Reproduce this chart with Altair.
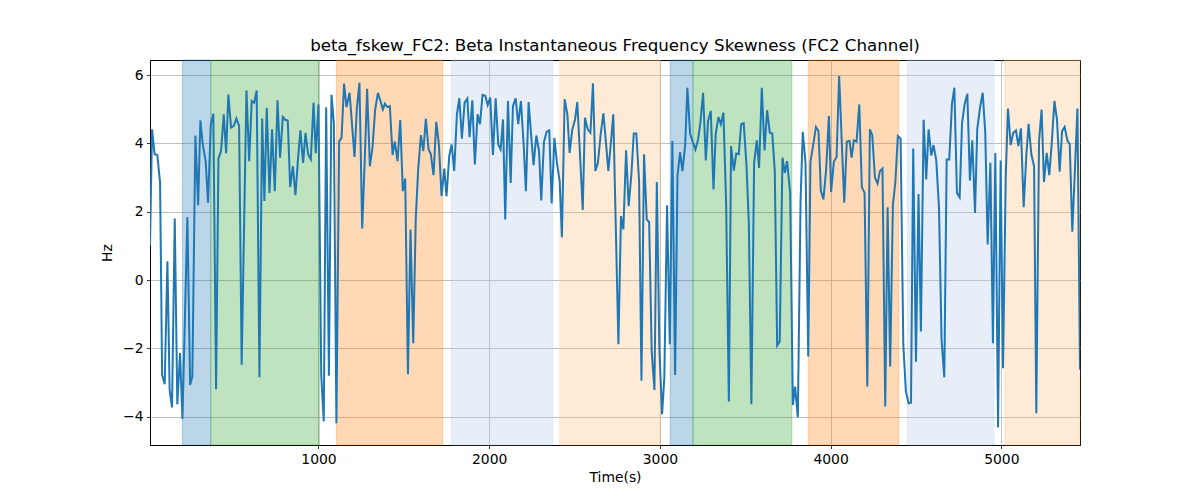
import altair as alt
import pandas as pd

# ---- series: time (s) and beta instantaneous frequency skewness (Hz) ----
t_part1 = [13, 25, 40, 56, 72, 84, 99, 115, 128, 142, 158, 173, 189, 203, 232, 248, 261, 279, 295, 308,
           322, 339, 353, 369, 384, 400, 414, 429, 445, 459, 472, 488, 504, 519, 535, 550, 578, 594, 609, 623,
           638, 654, 670, 683, 697]
v_part1 = [1.0, 4.41, 3.68, 3.66, 2.85, -2.78, -3.05, 0.55, -3.22, -3.73, 1.80, -3.64, -2.14, -4.07, 1.84, -3.07, -2.83, 4.23, 2.19, 4.67,
           3.97, 3.48, 2.26, 4.54, 4.87, -3.20, 3.56, 3.77, 4.85, 3.71, 5.43, 4.46, 4.51, 4.73, 4.51, -2.48, 5.55, 3.48, 5.24, 5.19,
           5.55, -2.85, 4.73, 2.31, 5.04]

t_part2 = [713, 728, 744, 760, 775, 791, 805, 820, 834, 850, 865, 879, 894, 910, 924, 939, 955, 971, 984, 1000,
           1016, 1031, 1045, 1061, 1076, 1090, 1105, 1121, 1135, 1150, 1164, 1182, 1195, 1211, 1225, 1240, 1256, 1270, 1285, 1301,
           1316, 1332, 1348, 1363, 1377]
v_part2 = [2.55, 4.41, 2.60, 5.26, 3.58, 4.77, 4.69, 4.67, 2.72, 3.33, 2.48, 3.48, 4.38, 3.43, 4.31, 3.68, 3.53, 5.19, 3.71, 5.14,
           -2.78, -4.14, 5.06, -2.80, 5.42, 4.60, -4.19, 4.05, 4.16, 5.75, 5.06, 5.48, 4.65, 3.60, 5.04, 5.78, 1.51, 3.38, 5.60, 3.33,
           3.87, 4.99, 5.48, 5.24, 4.99]

t_part3 = [1389, 1403, 1418, 1434, 1447, 1463, 1479, 1494, 1508, 1524, 1539, 1555, 1570, 1584, 1600, 1614, 1629, 1645, 1658, 1674,
           1690, 1705, 1721, 1737, 1750, 1766, 1780, 1795, 1811, 1825, 1840, 1856, 1872, 1885, 1901, 1916, 1932, 1946, 1961, 1977,
           1991, 2006, 2022, 2038, 2053, 2067]
v_part3 = [5.16, 5.06, 5.09, 3.66, 4.05, 3.48, 4.68, 2.60, 2.97, -2.76, 1.48, -1.85, 1.82, 3.24, 4.24, 3.77, 4.72, 3.82, 3.69, 3.07,
           4.63, 3.99, 2.46, 3.26, 2.45, 3.63, 3.97, 3.19, 4.85, 5.32, 4.14, 5.19, 5.31, 4.18, 5.26, 3.38, 4.85, 4.56, 5.42, 5.39,
           5.12, 5.34, 3.66, 5.32, 3.97, 3.82]

t_part4 = [2081, 2094, 2110, 2126, 2139, 2155, 2170, 2186, 2202, 2215, 2231, 2247, 2260, 2276, 2292, 2305, 2321, 2337, 2352, 2366,
           2382, 2397, 2413, 2426, 2442, 2458, 2471, 2487, 2503, 2516, 2532, 2548, 2561, 2577, 2593, 2608, 2622, 2637, 2653, 2669,
           2684, 2698, 2714, 2727]
v_part4 = [4.70, 1.77, 5.24, 2.84, 5.09, 5.32, 4.56, 5.24, 3.97, 2.60, 5.21, 4.16, 3.36, 4.23, 3.77, 2.33, 4.05, 4.34, 4.38, 2.24,
           4.16, 3.43, 2.89, 1.25, 5.29, 4.85, 3.72, 4.41, 4.70, 5.21, 3.68, 2.05, 4.75, 4.41, 4.31, 5.76, 3.19, 3.43, 4.26, 4.88,
           4.02, 3.19, 4.07, 4.85]

t_part5 = [2757, 2772, 2786, 2802, 2817, 2833, 2847, 2862, 2878, 2892, 2907, 2923, 2937, 2952, 2968, 2982, 2997, 3013, 3026, 3042,
           3058, 3073, 3089, 3103, 3118, 3132, 3148, 3161, 3177, 3192, 3208, 3224, 3237, 3253, 3269, 3282, 3298, 3314, 3327, 3343,
           3357, 3372, 3388, 3404, 3417, 3433]
v_part5 = [-1.88, 1.87, 1.48, 3.80, 2.16, 3.09, 4.29, 4.29, 2.89, -2.95, 3.68, 1.77, 1.70, -2.09, -3.22, 2.87, -2.04, -3.93, -2.85, 2.19,
           -1.88, 4.07, -2.78, 3.04, 3.74, 3.19, 3.95, 5.63, 4.28, 4.05, 3.82, 4.12, 4.60, 5.48, 3.50, 4.65, 4.95, 2.65, 4.28, 4.77,
           4.56, 4.90, 2.26, -3.56, 3.92, 3.20]

t_part6 = [3447, 3462, 3476, 3491, 3507, 3521, 3536, 3552, 3568, 3581, 3597, 3613, 3628, 3644, 3658, 3673, 3687, 3702, 3718, 3732,
           3745, 3763, 3779, 3792, 3808, 3824, 3837, 3853, 3869, 3882, 3898, 3914, 3929, 3943, 3958, 3974, 3990, 4003, 4019, 4035,
           4050, 4066, 4080, 4095, 4111]
v_part6 = [3.70, 3.68, 4.56, 4.59, 3.38, 1.67, -3.64, 3.43, 4.09, 3.28, 5.63, 3.79, 4.97, 4.31, 4.29, 3.19, -1.92, -1.80, 3.58, 3.14,
           3.48, 2.55, -3.66, -3.12, -4.02, 2.31, 4.34, 3.43, -2.24, 3.46, 3.95, 4.48, 4.36, 2.62, 2.36, 3.24, 4.80, 2.58, 3.46, 3.60,
           5.97, 3.97, 2.26, 4.05, 4.07]

t_part7 = [4123, 4136, 4152, 4168, 4183, 4199, 4215, 4230, 4244, 4260, 4275, 4289, 4304, 4320, 4334, 4349, 4365, 4379, 4394, 4410,
           4426, 4441, 4457, 4471, 4484, 4500, 4515, 4529, 4545, 4560, 4574, 4590, 4603, 4619, 4635, 4650, 4666, 4680, 4695, 4711,
           4725, 4740, 4756, 4770, 4785]
v_part7 = [3.58, 4.09, 4.05, 5.14, 2.72, 2.55, -3.12, 4.41, 4.24, 2.99, 2.82, 3.19, 3.26, -3.70, 2.13, -2.53, 2.21, 2.84, 4.21, 4.14,
           -1.90, -3.26, -3.61, -3.59, 3.85, -2.39, 2.52, -1.51, 4.69, 2.94, 4.41, 3.64, 3.95, 3.50, 2.11, -1.75, -2.85, 3.53, 3.53, 5.16,
           5.63, 2.55, 2.42, 4.60, 5.14]

t_part8 = [4801, 4816, 4830, 4846, 4859, 4875, 4891, 4906, 4920, 4936, 4951, 4965, 4981, 4996, 5010, 5026, 5039, 5055, 5070, 5086,
           5100, 5115, 5131, 5147, 5160, 5176, 5192, 5205, 5221, 5236, 5250, 5266, 5281, 5295, 5311, 5326, 5342, 5356, 5371, 5387,
           5401, 5416, 5430, 5446, 5461]
v_part8 = [5.45, 2.91, 4.09, 1.96, 4.41, 5.04, 5.48, 4.31, 1.04, 3.43, -1.85, 3.72, -4.32, 3.50, -2.58, 3.04, 5.02, 3.95, 4.31, 4.38,
           3.92, 4.44, 2.13, 3.68, 4.57, 3.68, 3.33, -3.90, 4.07, 4.99, 2.87, 3.72, 3.07, 3.97, 5.24, 4.70, 3.17, 4.36, 4.48, 4.09,
           3.97, 1.41, 3.09, 5.02, -2.63]

time_s = t_part1 + t_part2 + t_part3 + t_part4 + t_part5 + t_part6 + t_part7 + t_part8
fskew_hz = v_part1 + v_part2 + v_part3 + v_part4 + v_part5 + v_part6 + v_part7 + v_part8

# ---- shaded stage regions ----
region_start = [203, 369, 1105, 1780, 2413, 3060, 3194, 3869, 4449, 5020]
region_end = [369, 1005, 1727, 2372, 3001, 3194, 3773, 4400, 4957, 5461]
region_kind = ["A", "B", "C", "D", "E", "A", "B", "C", "D", "E"]
kind_names = ["A", "B", "C", "D", "E"]
kind_colors = ["#1f77b4", "#2ca02c", "#ff7f0e", "#aec7e8", "#ffbb78"]

x_domain = [13, 5461]
y_domain = [-4.83, 6.44]
x_ticks = [1000, 2000, 3000, 4000, 5000]
y_ticks = [-4, -2, 0, 2, 4, 6]

series = pd.DataFrame({"t": time_s, "v": fskew_hz})
regions = pd.DataFrame({"start": region_start, "end": region_end, "kind": region_kind})

x_scale = alt.Scale(domain=x_domain, nice=False, zero=False)
y_scale = alt.Scale(domain=y_domain, nice=False, zero=False)
x_axis = alt.Axis(values=x_ticks, title="Time(s)", format="d", titlePadding=5)
y_axis = alt.Axis(values=y_ticks, title="Hz", format="d", titlePadding=8)

color_scale = alt.Scale(domain=kind_names, range=kind_colors)

bands = alt.Chart(regions).mark_rect(fillOpacity=0.3, strokeOpacity=0.3, strokeWidth=1).encode(
    x=alt.X("start:Q", scale=x_scale, axis=x_axis),
    x2="end:Q",
    fill=alt.Fill("kind:N", scale=color_scale, legend=None),
    stroke=alt.Stroke("kind:N", scale=color_scale, legend=None),
)

line = alt.Chart(series).mark_line(color="#1f77b4", strokeWidth=2, clip=True).encode(
    x=alt.X("t:Q", scale=x_scale, axis=x_axis),
    y=alt.Y("v:Q", scale=y_scale, axis=y_axis),
)

chart = alt.layer(bands, line).properties(
    width=930,
    height=385,
    autosize=alt.AutoSizeParams(type="none"),
    padding={"left": 142, "top": 52, "right": 112, "bottom": 47},
    title=alt.TitleParams(
        text="beta_fskew_FC2: Beta Instantaneous Frequency Skewness (FC2 Channel)",
        font="DejaVu Sans",
        fontSize=16.7,
        fontWeight="normal",
        color="black",
        anchor="middle",
        offset=5,
    ),
).configure_view(
    stroke="black", strokeWidth=1
).configure_axis(
    grid=True,
    gridColor="#b0b0b0",
    gridWidth=0.8,
    domainColor="black",
    domainWidth=1,
    tickColor="black",
    tickSize=3.5,
    tickWidth=0.8,
    labelPadding=3.5,
    labelFont="DejaVu Sans",
    labelFontSize=13.9,
    labelColor="black",
    titleFont="DejaVu Sans",
    titleFontSize=13.9,
    titleFontWeight="normal",
    titleColor="black",
)

chart.save("out.html", embed_options={"renderer": "svg", "actions": False})
